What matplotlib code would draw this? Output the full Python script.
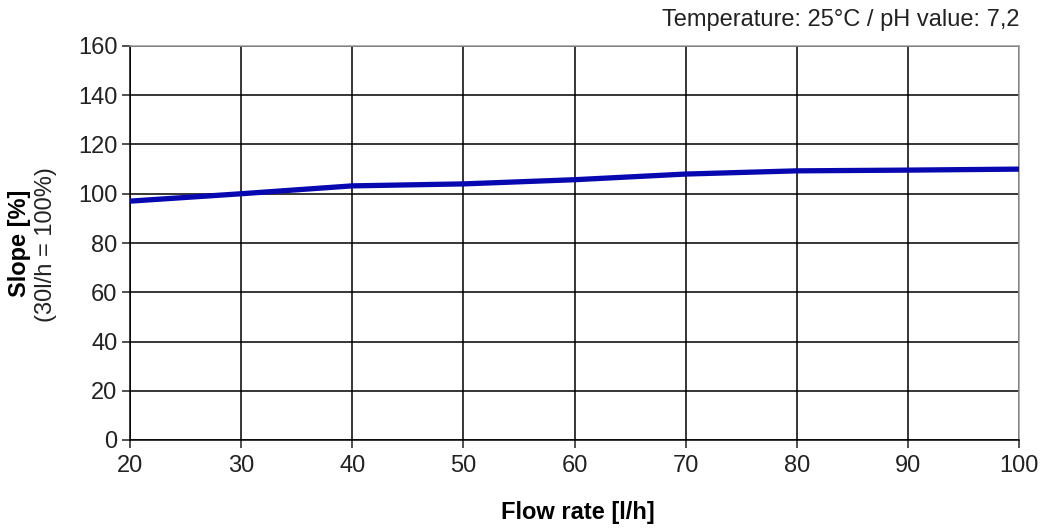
import matplotlib
matplotlib.use("Agg")
import matplotlib.pyplot as plt

flow_rate = [20, 30, 40, 50, 60, 70, 80, 90, 100]
slope = [97.0, 100.0, 103.2, 104.0, 105.7, 108.0, 109.3, 109.6, 110.0]
x_ticks = [20, 30, 40, 50, 60, 70, 80, 90, 100]
y_ticks = [0, 20, 40, 60, 80, 100, 120, 140, 160]

plt.rcParams['font.family'] = ['Liberation Sans', 'DejaVu Sans']

fig = plt.figure(figsize=(10.43, 5.31), dpi=100)
ax = fig.add_axes([130/1043, 1 - 440/531, (1019-130)/1043, (440-46)/531])

ax.plot(flow_rate, slope, color='#0808b0', lw=3.8, solid_capstyle='butt', zorder=3)

ax.set_xlim(20, 100)
ax.set_ylim(0, 160)
ax.set_xticks(x_ticks)
ax.set_yticks(y_ticks)
ax.grid(True, color='black', lw=1.1)
ax.set_axisbelow(True)
ax.tick_params(axis='both', labelsize=17, colors='#222222', length=6, width=1.1, pad=3)
ax.tick_params(axis='x', pad=5)
for s in ['left', 'bottom']:
    ax.spines[s].set_color('black')
    ax.spines[s].set_linewidth(1.1)
for s in ['top', 'right']:
    ax.spines[s].set_color('#999999')
    ax.spines[s].set_linewidth(1.1)

fig.text(0.5 * (130 + 1019) / 1043 + 3 / 1043, 1 - 513 / 531, 'Flow rate [l/h]', ha='center', va='center',
         fontsize=17, fontweight='bold')
fig.text(20 / 1043, 1 - 243 / 531, 'Slope [%]', rotation=90, ha='center', va='center',
         fontsize=17, fontweight='bold')
fig.text(46 / 1043, 1 - 245 / 531, '(30l/h = 100%)', rotation=90, ha='center', va='center',
         fontsize=17, color='#222222')
fig.text(1020 / 1043, 1 - 20 / 531, 'Temperature: 25°C / pH value: 7,2', ha='right', va='center',
         fontsize=17, color='#222222')

fig.savefig('out.png', dpi=100)
